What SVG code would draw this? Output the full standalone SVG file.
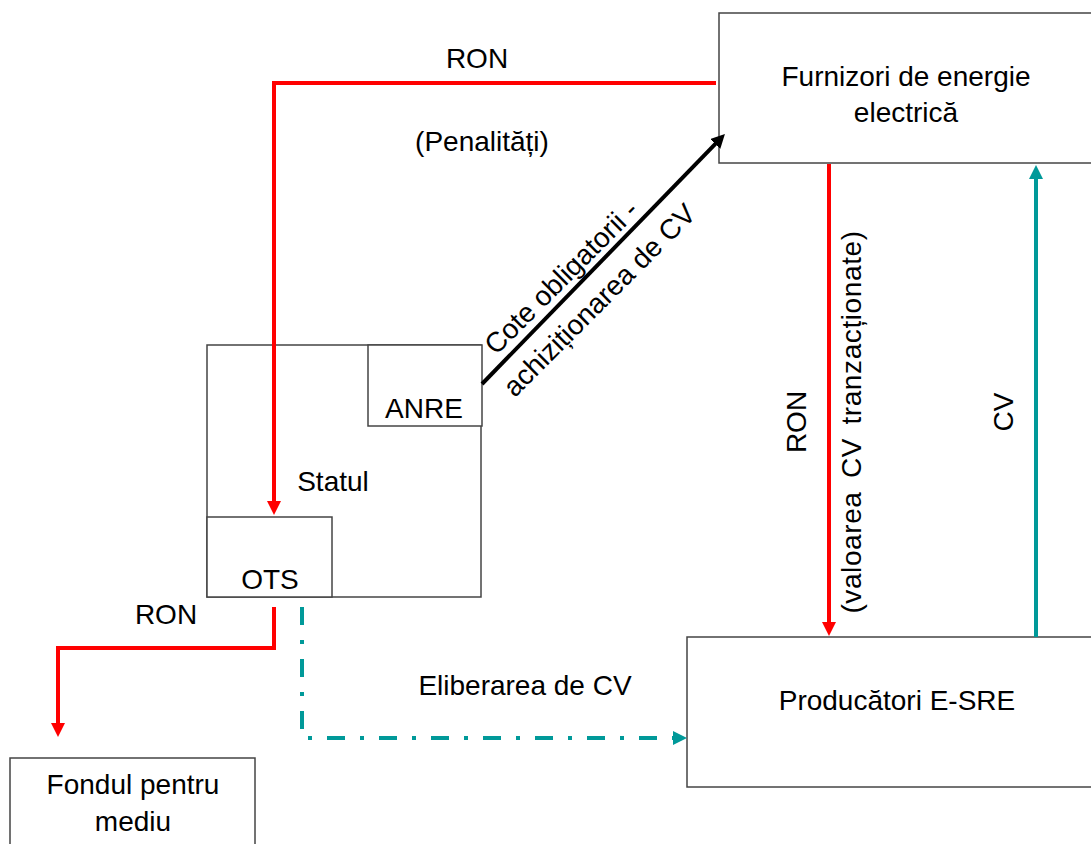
<svg xmlns="http://www.w3.org/2000/svg" width="1091" height="844" viewBox="0 0 1091 844">
<style>
.box{fill:#fff;stroke:#444;stroke-width:1.5}
.t{font-family:"Liberation Sans",Arial,sans-serif;font-size:28px;fill:#000;text-anchor:middle}
.red{fill:none;stroke:#ff0000;stroke-width:4}
.teal{fill:none;stroke:#009999;stroke-width:4}
.blk{fill:none;stroke:#000;stroke-width:4}
</style>
<defs>
<marker id="ar" viewBox="0 0 14 14" markerUnits="userSpaceOnUse" markerWidth="14" markerHeight="14" refX="2" refY="7" orient="auto"><path d="M0,0 L14,7 L0,14 z" fill="#ff0000"/></marker>
<marker id="at" viewBox="0 0 14 14" markerUnits="userSpaceOnUse" markerWidth="14" markerHeight="14" refX="2" refY="7" orient="auto"><path d="M0,0 L14,7 L0,14 z" fill="#009999"/></marker>
<marker id="ab" viewBox="0 0 14 14" markerUnits="userSpaceOnUse" markerWidth="14" markerHeight="14" refX="2" refY="7" orient="auto"><path d="M0,0 L14,7 L0,14 z" fill="#000"/></marker>
</defs>
<rect width="1091" height="844" fill="#fff"/>
<g id="statul">
<rect class="box" x="207" y="345" width="274" height="252"/>
<text class="t" x="333" y="491">Statul</text>
</g>
<g id="anre">
<rect class="box" x="368" y="345" width="114" height="81"/>
<text class="t" x="424" y="418">ANRE</text>
</g>
<g id="ots">
<rect class="box" x="207" y="517" width="125" height="80"/>
<text class="t" x="270" y="589">OTS</text>
</g>
<g id="furnizori">
<rect class="box" x="719" y="13" width="420" height="150"/>
<text class="t" x="906" y="86">Furnizori de energie</text>
<text class="t" x="906" y="122">electrică</text>
</g>
<g id="producatori">
<rect class="box" x="687" y="637" width="450" height="150"/>
<text class="t" x="897" y="710">Producători E-SRE</text>
</g>
<g id="fondul">
<rect class="box" x="10" y="758" width="245" height="120"/>
<text class="t" x="133" y="794">Fondul pentru</text>
<text class="t" x="133" y="831">mediu</text>
</g>
<g id="connectors">
<path class="red" d="M716,83 H274 V503" marker-end="url(#ar)"/>
<path class="red" d="M274,607 V648 H58 V725" marker-end="url(#ar)"/>
<path class="red" d="M829,164 V624" marker-end="url(#ar)"/>
<path class="teal" d="M1036,637 V177" marker-end="url(#at)"/>
<path class="blk" d="M482,384 L716.6,142.6" marker-end="url(#ab)"/>
<path class="teal" d="M302,607 V738 H675" stroke-dasharray="18 15 4 15" marker-end="url(#at)"/>
</g>
<g id="labels">
<text class="t" x="477" y="68">RON</text>
<text class="t" x="482" y="151">(Penalități)</text>
<text class="t" transform="translate(568,284) rotate(-45)">Cote obligatorii -</text>
<text class="t" transform="translate(606,307) rotate(-45)">achiziționarea de CV</text>
<text class="t" transform="translate(806,422) rotate(-90)">RON</text>
<text class="t" transform="translate(861,422) rotate(-90)" word-spacing="5" letter-spacing="0.6">(valoarea CV tranzacționate)</text>
<text class="t" transform="translate(1013,412) rotate(-90)">CV</text>
<text class="t" x="166" y="624">RON</text>
<text class="t" x="525" y="695">Eliberarea de CV</text>
</g>
</svg>
